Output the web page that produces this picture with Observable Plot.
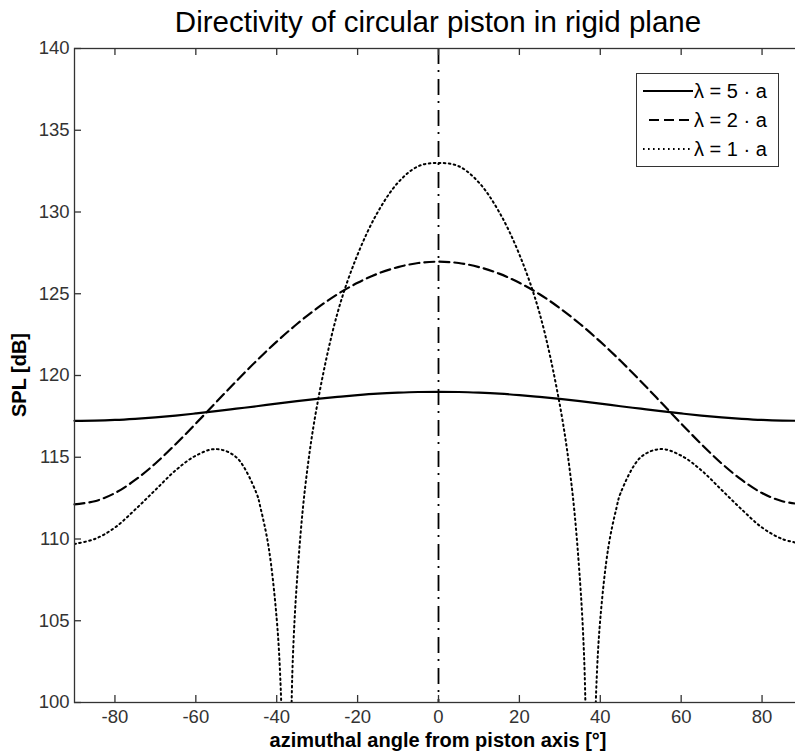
<!DOCTYPE html>
<html><head><meta charset="utf-8">
<script src="https://cdn.jsdelivr.net/npm/d3@7"></script>
<script src="https://cdn.jsdelivr.net/npm/@observablehq/plot@0.6"></script>
<style>
body{margin:0;background:#fff;overflow:hidden;font-family:"Liberation Sans",Arial,sans-serif;}
#wrap{position:relative;width:795px;height:751px;overflow:hidden;}
#chart{position:absolute;left:0;top:0;width:810px;}
#chart svg{max-width:none !important;}
#title{position:absolute;left:0;width:876px;top:7px;text-align:center;font-size:29.5px;color:#000;line-height:1;}
#xlabel{position:absolute;left:0;width:876px;top:730px;text-align:center;font-size:20px;font-weight:bold;color:#000;line-height:1;}
#ylabel{position:absolute;left:19px;top:375px;transform:translate(-50%,-50%) rotate(-90deg);font-size:20px;font-weight:bold;color:#000;white-space:nowrap;line-height:1;}
#legend{position:absolute;left:636px;top:73px;width:141px;height:92px;border:1.3px solid #333;background:#fff;}
</style>
</head><body>
<div id="wrap">
  <div id="chart"></div>
  <div id="title">Directivity of circular piston in rigid plane</div>
  <div id="xlabel">azimuthal angle from piston axis [°]</div>
  <div id="ylabel">SPL [dB]</div>
  <div id="legend"></div>
</div>
<script>
// ---- data ----
const seriesNames = ["λ = 5 · a", "λ = 2 · a", "λ = 1 · a"];

const anglesCoarse = [-90,-85,-80,-75,-70,-65,-60,-55,-50,-45,-40,-35,-30,-25,-20,-15,-10,-5,0,
                      5,10,15,20,25,30,35,40,45,50,55,60,65,70,75,80,85,90];
const splLambda5 = [117.23,117.24,117.28,117.35,117.44,117.55,117.68,117.82,117.97,118.12,118.28,118.43,118.57,118.69,118.80,118.89,118.95,118.99,119.00,
                    118.99,118.95,118.89,118.80,118.69,118.57,118.43,118.28,118.12,117.97,117.82,117.68,117.55,117.44,117.35,117.28,117.24,117.23];
const splLambda2 = [112.12,112.31,112.81,113.61,114.62,115.80,117.06,118.36,119.65,120.90,122.07,123.15,124.12,124.97,125.67,126.23,126.63,126.88,126.96,
                    126.88,126.63,126.23,125.67,124.97,124.12,123.15,122.07,120.90,119.65,118.36,117.06,115.80,114.62,113.61,112.81,112.31,112.12];

const anglesFine = [-90,-85,-80,-75,-70,-65,-60,-55,-50,-45,-44,-42,-40,-39,-38,-37,-36,-35,-33,-30,-25,-20,-15,-10,-5,0,
                    5,10,15,20,25,30,33,35,36,37,38,39,40,42,44,45,50,55,60,65,70,75,80,85,90];
const splLambda1 = [109.7,110.0,110.7,111.8,113.0,114.2,115.1,115.5,115.0,112.8,111.9,109.5,105.1,100.8,90.5,93.6,102.8,107.4,113.1,118.2,123.8,127.4,130.0,131.8,132.8,133.0,
                    132.8,131.8,130.0,127.4,123.8,118.2,113.1,107.4,102.8,93.6,90.5,100.8,105.1,109.5,111.9,112.8,115.0,115.5,115.1,114.2,113.0,111.8,110.7,110.0,109.7];

const xTicks = [-80,-60,-40,-20,0,20,40,60,80];
const yTicks = [100,105,110,115,120,125,130,135,140];
const xDomain = [-90, 90];
const yDomain = [100, 140];
const pistonAxis = [0];

// ---- build tables ----
const t5 = anglesCoarse.map((a,i)=>({angle:a, spl:splLambda5[i]}));
const t2 = anglesCoarse.map((a,i)=>({angle:a, spl:splLambda2[i]}));
const t1 = anglesFine.map((a,i)=>({angle:a, spl:splLambda1[i]}));

const W = 810, H = 751, mL = 74, mR = 8, mT = 48, mB = 49;
const pW = W - mL - mR, pH = H - mT - mB;
const axisColor = "#333";
const fmt = d => String(d);

const chart = Plot.plot({
  width: W, height: H,
  marginLeft: mL, marginRight: mR, marginTop: mT, marginBottom: mB,
  x: {domain: xDomain},
  y: {domain: yDomain},
  style: {fontFamily: "Liberation Sans, Arial, sans-serif", fontSize: "18.5px", color: axisColor, background: "white", overflow: "visible", maxWidth: "none"},
  marks: [
    Plot.ruleX(pistonAxis, {x: d=>d, stroke: "#000", strokeWidth: 1.8, strokeDasharray: "16,6,2,7"}),
    Plot.line(t5, {x: "angle", y: "spl", curve: "catmull-rom", stroke: "#000", strokeWidth: 2.2}),
    Plot.line(t2, {x: "angle", y: "spl", curve: "catmull-rom", stroke: "#000", strokeWidth: 2.2, strokeDasharray: "10,5"}),
    Plot.line(t1, {x: "angle", y: "spl", curve: "catmull-rom", stroke: "#000", strokeWidth: 2, strokeDasharray: "1.6,3.4", clip: true}),
    Plot.frame({stroke: axisColor, strokeWidth: 1.3}),
    Plot.tickX(xTicks, {x: d=>d, insetTop: pH - 7, stroke: axisColor, strokeWidth: 1.3}),
    Plot.tickX(xTicks, {x: d=>d, insetBottom: pH - 7, stroke: axisColor, strokeWidth: 1.3}),
    Plot.tickY(yTicks, {y: d=>d, insetRight: pW - 7, stroke: axisColor, strokeWidth: 1.3}),
    Plot.tickY(yTicks, {y: d=>d, insetLeft: pW - 7, stroke: axisColor, strokeWidth: 1.3}),
    Plot.axisX(xTicks, {tickSize: 0, tickPadding: 7, label: null, fill: axisColor, tickFormat: fmt}),
    Plot.axisY(yTicks, {tickSize: 0, tickPadding: 5, label: null, fill: axisColor, tickFormat: fmt})
  ]
});
chart.style.maxWidth = "none";
document.getElementById("chart").appendChild(chart);

// ---- legend ----
const dashes = [null, "10,5", "1.6,3.4"];
const widths = [2.2, 2.2, 2];
const lg = d3.select("#legend").append("svg").attr("width", 141).attr("height", 92);
seriesNames.forEach((name, i) => {
  const y = 17 + i * 29;
  const ln = lg.append("line").attr("x1", i === 1 ? 12 : 6).attr("x2", 56).attr("y1", y).attr("y2", y)
    .attr("stroke", "#000").attr("stroke-width", widths[i]);
  if (dashes[i]) ln.attr("stroke-dasharray", dashes[i]);
  lg.append("text").attr("x", 57).attr("y", y + 7).attr("font-size", "20px")
    .attr("font-family", "Liberation Sans, Arial, sans-serif").attr("fill", "#000").text(name);
});
</script>
</body></html>
